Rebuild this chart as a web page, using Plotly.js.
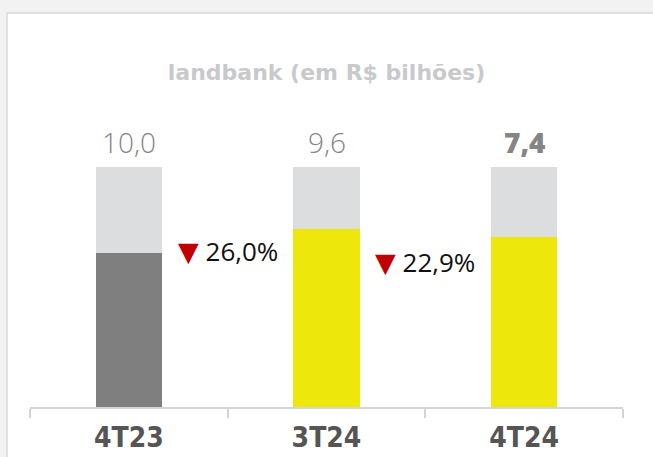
<!DOCTYPE html>
<html><head><meta charset="utf-8">
<script src="https://cdn.plot.ly/plotly-3.0.1.min.js"></script>
<style>
html,body{margin:0;padding:0;background:#f2f2f2;width:653px;height:457px;overflow:hidden;}
#card{position:absolute;left:6px;top:12px;width:700px;height:500px;background:#fff;border:2px solid #e0e0e0;box-sizing:border-box;}
#chart{position:absolute;left:0;top:0;width:653px;height:457px;}
</style></head>
<body>
<div id="card"></div>
<div id="chart"></div>
<script>
const categories = ["4T23", "3T24", "4T24"];
const totals = ["10,0", "9,6", "7,4"];           // landbank totals (R$ bi)
const bottomShare = [64, 74, 71];                // colored share of each bar (%)
const topShare = [36, 26, 29];                   // light-gray remainder (%)
const bottomColors = ["#7f7f7f", "#ede70c", "#ede70c"];
const changes = ["26,0%", "22,9%"];              // declines vs 4T24
const changeLevels = [65, 60.5];

const traces = [
  {type:"bar", x:categories, y:bottomShare, marker:{color:bottomColors}, width:0.335, hoverinfo:"skip"},
  {type:"bar", x:categories, y:topShare, marker:{color:"#dcdddf"}, width:0.335, hoverinfo:"skip"}
];

const annotations = [];
categories.forEach((c,i)=>{
  annotations.push({x:c, y:100, xref:"x", yref:"y", yanchor:"bottom", yshift:4, showarrow:false,
    text:totals[i], font:{family:"Open Sans", size:28, color:"#858585", weight: i===2 ? 800 : 300}});
});
changes.forEach((t,i)=>{
  annotations.push({x:i+0.5, y:changeLevels[i], xref:"x", yref:"y", showarrow:false, xanchor:"center",
    text:'<span style="color:#c00000;font-size:27px;font-family:DejaVu Sans">▼</span> '+t,
    font:{family:"Open Sans", size:26, color:"#111"}});
});

const layout = {
  width:653, height:457,
  margin:{l:30, r:30, t:167, b:50},
  paper_bgcolor:"rgba(0,0,0,0)", plot_bgcolor:"rgba(0,0,0,0)",
  barmode:"stack", showlegend:false,
  title:{text:"landbank (em R$ bilhões)", x:0.5, xref:"paper", y:1-72/457, yanchor:"middle",
    font:{family:"DejaVu Sans", size:22, color:"#c8c9cb", weight:700}},
  xaxis:{type:"category", showline:true, linecolor:"#d4d4d4", linewidth:2, ticks:"outside", tickson:"boundaries",
    ticklen:9, tickcolor:"#d4d4d4", tickwidth:2, showgrid:false, zeroline:false, ticklabelstandoff:4,
    tickfont:{family:"DejaVu Sans Condensed", size:28, color:"#555", weight:700}},
  yaxis:{range:[0,100], visible:false, showgrid:false, zeroline:false},
  annotations: annotations
};
Plotly.newPlot("chart", traces, layout, {displayModeBar:false, staticPlot:true});
</script>
</body></html>
